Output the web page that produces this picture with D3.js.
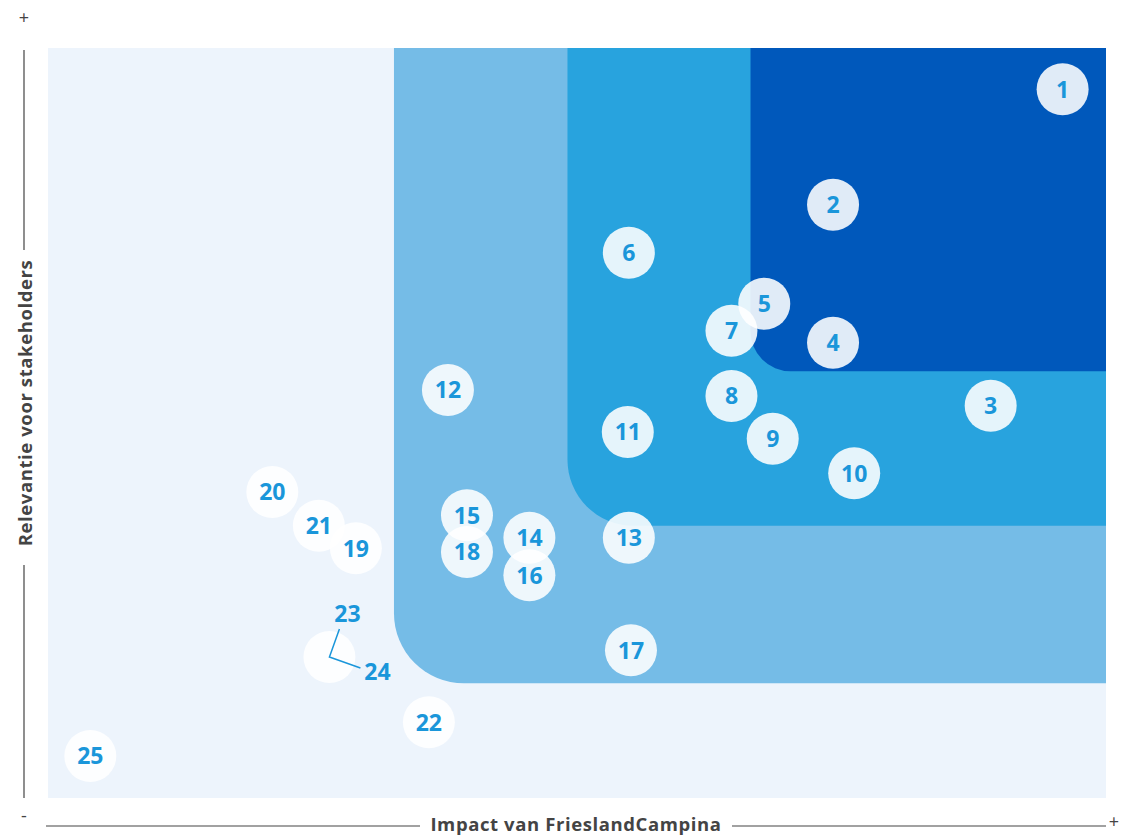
<!DOCTYPE html>
<html>
<head>
<meta charset="utf-8">
<script src="https://cdn.jsdelivr.net/npm/d3@7"></script>
<style>
  body { margin: 0; background: #fff; }
  svg text { font-family: "Open Sans", "Noto Sans", sans-serif; }
</style>
</head>
<body>
<svg id="matrix" width="1124" height="835"></svg>
<script>
// topic numbers and their position (impact, relevance) on a 0-100 scale
var topics = ["1", "2", "3", "4", "5", "6", "7", "8", "9", "10", "11", "12", "13",
              "14", "15", "16", "17", "18", "19", "20", "21", "22", "23/24", "25"];
var impact = [95.9, 74.2, 89.1, 74.2, 67.7, 54.9, 64.6, 64.6, 68.5, 76.2, 54.8, 37.8, 54.9,
              45.5, 39.6, 45.5, 55.1, 39.6, 29.1, 21.2, 25.6, 36.0, 26.6, 4.0];
var relevance = [94.5, 79.1, 52.3, 60.7, 65.9, 72.7, 62.3, 53.6, 47.9, 43.3, 48.8, 54.4, 34.7,
                 34.7, 37.7, 29.7, 19.7, 32.8, 33.3, 40.8, 36.3, 10.1, 18.8, 5.6];

// materiality zones: lower-left threshold of each band
var zoneImpact = [32.7, 49.1, 66.4];
var zoneRelevance = [15.3, 36.3, 56.9];

const zoneColors = ["#75bce7", "#28a3de", "#0058bb"],
    zoneRadius = [70, 66, 40],
    labelColor = "#1a96da",
    axisColor = "#444";

function drawMatrix() {
    var svg = d3.select("#matrix");
    svg.selectAll("*").remove();

    var plot = {left: 48, right: 1106, top: 48, bottom: 798};

    var xScale = d3.scaleLinear().domain([0, 100]).range([plot.left, plot.right]),
        yScale = d3.scaleLinear().domain([0, 100]).range([plot.bottom, plot.top]);

    // background
    svg.append("rect")
        .attr("x", xScale(0))
        .attr("y", yScale(100))
        .attr("width", xScale(100) - xScale(0))
        .attr("height", yScale(0) - yScale(100))
        .attr("fill", "#edf4fc");

    // zones: rectangles to top-right with rounded bottom-left corner
    var zones = zoneImpact.map(function(d, i) {
        return {x: d, y: zoneRelevance[i], r: zoneRadius[i], color: zoneColors[i]};
    });

    svg.selectAll(".zone")
        .data(zones)
        .enter().append("path")
        .attr("class", "zone")
        .attr("fill", function(d) { return d.color; })
        .attr("d", function(d) {
            var x0 = xScale(d.x), x1 = xScale(100),
                y0 = yScale(100), y1 = yScale(d.y), r = d.r;
            var p = d3.path();
            p.moveTo(x0, y0);
            p.lineTo(x1, y0);
            p.lineTo(x1, y1);
            p.lineTo(x0 + r, y1);
            p.arcTo(x0, y1, x0, y1 - r, r);
            p.closePath();
            return p.toString();
        });

    // axes
    var axes = svg.append("g")
        .attr("stroke", axisColor)
        .attr("stroke-width", 1.2);

    axes.append("line").attr("x1", 24).attr("x2", 24).attr("y1", yScale(100) + 2).attr("y2", 250);
    axes.append("line").attr("x1", 24).attr("x2", 24).attr("y1", 565).attr("y2", yScale(0));
    axes.append("line").attr("x1", 46).attr("x2", 420).attr("y1", 826).attr("y2", 826);
    axes.append("line").attr("x1", 732).attr("x2", 1106).attr("y1", 826).attr("y2", 826);

    svg.append("text")
        .attr("transform", "translate(26,403) rotate(-90)")
        .attr("text-anchor", "middle")
        .attr("dy", "0.35em")
        .attr("font-size", 18.5)
        .attr("font-weight", 700)
        .attr("letter-spacing", 0.6)
        .attr("fill", axisColor)
        .text("Relevantie voor stakeholders");

    svg.append("text")
        .attr("x", 576)
        .attr("y", 825)
        .attr("dy", "0.35em")
        .attr("text-anchor", "middle")
        .attr("font-size", 18.5)
        .attr("font-weight", 700)
        .attr("letter-spacing", 0.6)
        .attr("fill", axisColor)
        .text("Impact van FrieslandCampina");

    var signs = [{x: 24, y: 18, t: "+"}, {x: 24, y: 816, t: "-"}, {x: 1114, y: 822, t: "+"}];
    svg.selectAll(".sign")
        .data(signs)
        .enter().append("text")
        .attr("class", "sign")
        .attr("x", function(d) { return d.x; })
        .attr("y", function(d) { return d.y; })
        .attr("dy", "0.35em")
        .attr("text-anchor", "middle")
        .attr("font-size", 18)
        .attr("fill", axisColor)
        .text(function(d) { return d.t; });

    // topics
    var points = topics.map(function(d, i) {
        return {id: d, x: impact[i], y: relevance[i]};
    });

    var g = svg.selectAll(".topic")
        .data(points)
        .enter().append("g")
        .attr("class", "topic")
        .attr("transform", function(d) {
            return "translate(" + xScale(d.x) + "," + yScale(d.y) + ")";
        });

    g.append("circle")
        .attr("r", 26)
        .attr("fill", "#fff")
        .attr("fill-opacity", 0.88);

    g.filter(function(d) { return d.id.indexOf("/") < 0; })
        .append("text")
        .attr("text-anchor", "middle")
        .attr("dy", "0.36em")
        .attr("font-size", 23)
        .attr("font-weight", 700)
        .attr("fill", labelColor)
        .text(function(d) { return d.id; });

    // combined topic 23/24 with leader lines
    var combo = g.filter(function(d) { return d.id.indexOf("/") >= 0; });
    combo.append("path")
        .attr("d", "M10,-28L0,0L31,11")
        .attr("fill", "none")
        .attr("stroke", labelColor)
        .attr("stroke-width", 1.5);
    combo.selectAll(".part")
        .data(function(d) {
            var ids = d.id.split("/");
            return [{t: ids[0], dx: 18, dy: -43}, {t: ids[1], dx: 48, dy: 15}];
        })
        .enter().append("text")
        .attr("class", "part")
        .attr("x", function(d) { return d.dx; })
        .attr("y", function(d) { return d.dy; })
        .attr("dy", "0.36em")
        .attr("text-anchor", "middle")
        .attr("font-size", 23)
        .attr("font-weight", 700)
        .attr("fill", labelColor)
        .text(function(d) { return d.t; });
}

drawMatrix();
</script>
</body>
</html>
